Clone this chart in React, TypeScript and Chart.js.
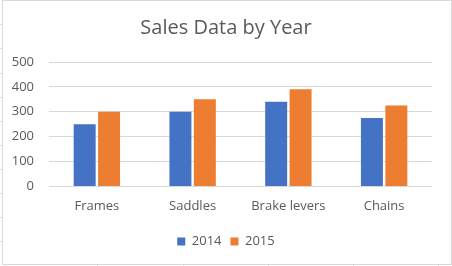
import React, { useEffect, useRef } from "react";
import { Chart, registerables } from "chart.js";

Chart.register(...registerables);

const categories = ["Frames", "Saddles", "Brake levers", "Chains"];
const sales2014 = [250, 300, 340, 275];
const sales2015 = [300, 350, 390, 325];
const seriesLabels = ["2014", "2015"];
const yTicks = [0, 100, 200, 300, 400, 500];

const FONT = "'Open Sans', 'Noto Sans', sans-serif";
const TEXT = "#595959";

export default function App() {
  const ref = useRef<HTMLCanvasElement | null>(null);

  useEffect(() => {
    document.body.style.margin = "0";
    const canvas = ref.current;
    if (!canvas) return;
    const chart = new Chart(canvas, {
      type: "bar",
      data: {
        labels: categories,
        datasets: [
          {
            label: seriesLabels[0],
            data: sales2014,
            backgroundColor: "#4472C4",
            categoryPercentage: 0.51,
            barPercentage: 0.9,
          },
          {
            label: seriesLabels[1],
            data: sales2015,
            backgroundColor: "#ED7D31",
            categoryPercentage: 0.51,
            barPercentage: 0.9,
          },
        ],
      },
      options: {
        animation: false,
        responsive: false,
        maintainAspectRatio: false,
        layout: { padding: { left: 0, right: 0, top: 0, bottom: 8 } },
        plugins: {
          title: {
            display: true,
            text: "Sales Data by Year",
            color: TEXT,
            font: { family: FONT, size: 20, weight: "normal" },
            padding: { top: 16, bottom: 22 },
          },
          legend: {
            position: "bottom",
            labels: {
              color: TEXT,
              font: { family: FONT, size: 13 },
              boxWidth: 8,
              boxHeight: 8,
              padding: 9,
            },
          },
          tooltip: { enabled: false },
        },
        scales: {
          x: {
            grid: { display: false, drawTicks: false },
            border: { display: false },
            ticks: {
              color: TEXT,
              font: { family: FONT, size: 13 },
              padding: 12,
            },
          },
          y: {
            min: 0,
            max: 500,
            afterBuildTicks: (axis: any) => {
              axis.ticks = yTicks.map((v) => ({ value: v }));
            },
            afterFit: (axis: any) => {
              axis.width = 49;
            },
            grid: { color: "#d9d9d9", lineWidth: 1, drawTicks: false },
            border: { display: false },
            ticks: {
              color: TEXT,
              font: { family: FONT, size: 13 },
              padding: 15,
            },
          },
          yRight: {
            type: "linear",
            position: "right",
            display: true,
            grid: { display: false, drawTicks: false },
            border: { display: false },
            ticks: { display: false },
            afterFit: (axis: any) => {
              axis.width = 20;
            },
          },
        },
      },
    });
    return () => chart.destroy();
  }, []);

  const leftMarks = [24, 48, 73, 97, 121, 145, 169, 193, 217, 241];
  const bottomMarks = [97, 183, 268, 353, 438];

  return (
    <div style={{ position: "absolute", left: 0, top: 0, width: 452, height: 266, background: "#fff", overflow: "hidden" }}>
      {leftMarks.map((y) => (
        <div key={"l" + y} style={{ position: "absolute", left: 0, top: y, width: 2, height: 1, background: "#e0e0e0" }} />
      ))}
      {bottomMarks.map((x) => (
        <div key={"b" + x} style={{ position: "absolute", left: x, top: 265, width: 1, height: 1, background: "#e0e0e0" }} />
      ))}
      <canvas ref={ref} width={452} height={266} style={{ position: "absolute", left: 0, top: 0, width: 452, height: 266 }} />
      <div style={{ position: "absolute", left: 2, top: 0, width: 448, height: 263, border: "1px solid #d9d9d9", pointerEvents: "none" }} />
    </div>
  );
}
